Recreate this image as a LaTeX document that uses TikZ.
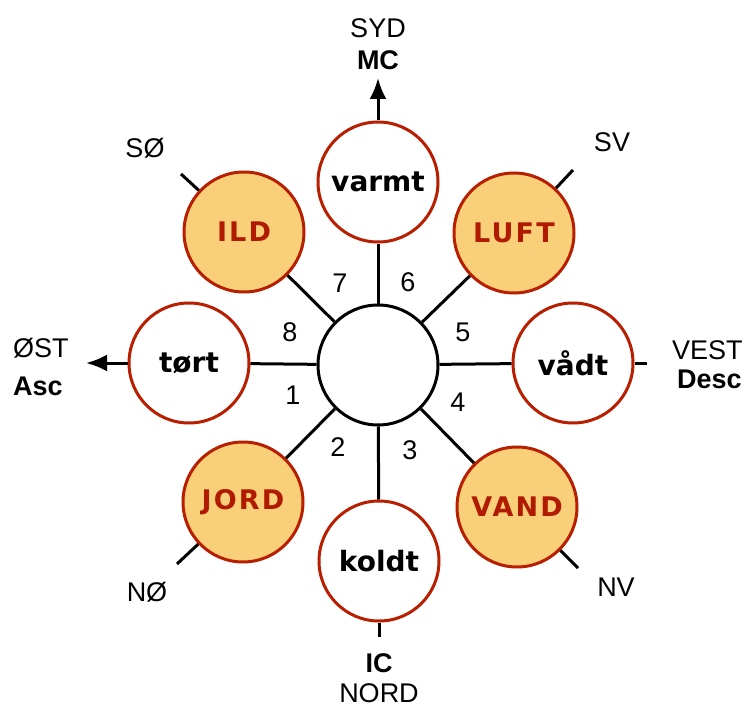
\documentclass[tikz,border=0pt]{standalone}
\usepackage{fontspec}
\setmainfont{Liberation Sans}
\newfontfamily\circfont{DejaVu Sans}
\newfontfamily\elemfont[LetterSpace=8]{DejaVu Sans}
\usetikzlibrary{arrows.meta}
\definecolor{rim}{HTML}{B81F00}
\definecolor{elemfill}{HTML}{F9CF79}
\definecolor{elemtext}{HTML}{B01A00}
\begin{document}
\begin{tikzpicture}[x=1pt,y=-1pt,
  quality/.style={circle,draw=rim,line width=3pt,fill=white,minimum size=120pt,inner sep=0pt,
    font=\circfont\bfseries\fontsize{28}{30}\selectfont},
  elem/.style={quality,fill=elemfill,text=elemtext,
    font=\elemfont\bfseries\fontsize{27}{28}\selectfont},
  hub/.style={circle,draw=black,line width=3pt,fill=white,minimum size=120pt,inner sep=0pt},
  lbl/.style={inner sep=0pt,font=\fontsize{27}{30}\selectfont},
  blbl/.style={inner sep=0pt,font=\bfseries\fontsize{27}{30}\selectfont},
  spoke/.style={line width=3pt,black},
  arr/.style={spoke,-{Latex[length=21pt,width=17pt]}}]
\useasboundingbox (0,0) rectangle (748,709);
\fill[white] (0,0) rectangle (748,709);

% nodes
\node[hub] (C) at (378,365) {};
\node[quality] (varmt) at (378,182) {varmt};
\node[quality] (tort) at (189,363) {tørt};
\node[quality] (vadt) at (573,363) {vådt};
\node[quality] (koldt) at (379,561) {koldt};
\node[elem] (ild) at (244,232) {ILD};
\node[elem] (luft) at (514,233) {LUFT};
\node[elem] (jord) at (243,502) {JORD};
\node[elem] (vand) at (517,507) {VAND};

% spokes
\foreach \n in {varmt,tort,vadt,koldt,ild,luft,jord,vand}
  \draw[spoke] (C) -- (\n);

% outer ends
\coordinate (aN) at (378,78);
\coordinate (aE) at (86,363);
\coordinate (tW) at (647,363);
\coordinate (tS) at (379,637);
\coordinate (tSO) at (181,174);
\coordinate (tSV) at (573,170);
\coordinate (tNO) at (177,564);
\coordinate (tNV) at (578,568);
\draw[arr] (varmt) -- (aN);
\draw[arr] (tort) -- (aE);
\draw[spoke] (vadt) -- (tW);
\draw[spoke] (koldt) -- (tS);
\draw[spoke] (ild) -- (tSO);
\draw[spoke] (luft) -- (tSV);
\draw[spoke] (jord) -- (tNO);
\draw[spoke] (vand) -- (tNV);

% numbers
\node[lbl] (n7) at (340,283) {7};
\node[lbl] (n6) at (408,282) {6};
\node[lbl] (n8) at (290,332) {8};
\node[lbl] (n5) at (463,332) {5};
\node[lbl] (n1) at (293,395) {1};
\node[lbl] (n4) at (458,402) {4};
\node[lbl] (n2) at (338,447) {2};
\node[lbl] (n3) at (410,450) {3};

% direction labels
\node[lbl] (syd) at (378,28) {SYD};
\node[blbl] (mc) at (378,60) {MC};
\node[lbl] (so) at (145,148) {SØ};
\node[lbl] (sv) at (612,142) {SV};
\node[lbl,anchor=west] (ost) at (13,348) {ØST};
\node[blbl,anchor=west] (asc) at (13,386) {Asc};
\node[lbl,anchor=west] (vest) at (672,350) {VEST};
\node[blbl,anchor=west] (desc) at (677,379) {Desc};
\node[lbl] (no) at (147,592) {NØ};
\node[lbl] (nv) at (616,587) {NV};
\node[blbl] (ic) at (379,663) {IC};
\node[lbl] (nord) at (379,693) {NORD};
\end{tikzpicture}
\end{document}
